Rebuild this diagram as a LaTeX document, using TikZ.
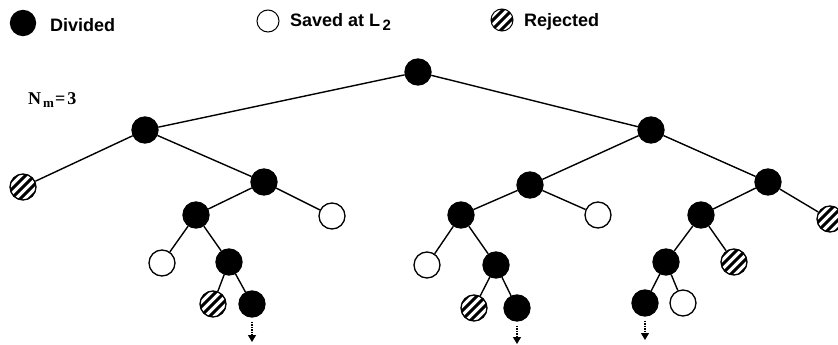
\documentclass[tikz,border=0pt]{standalone}
\usepackage{fontspec}
\setmainfont{Liberation Sans}
\newfontfamily\tserif{Liberation Serif}
\usetikzlibrary{arrows.meta}
\tikzset{
  nd/.style={circle, draw, line width=1.3pt, minimum size=26pt, inner sep=0pt},
  blk/.style={nd, fill=black},
  opn/.style={nd, fill=white},
  hatch/.style={path picture={
      \foreach \k in {-36,-27,...,36}
        \draw[line width=3pt] ([xshift=\k pt]path picture bounding box.center) ++(-20pt,-20pt) -- ++(40pt,40pt);
    }},
  rej/.style={nd, fill=white, hatch},
  edge/.style={line width=1.4pt},
  down/.style={line width=1.3pt, dash pattern=on 1.5pt off 1pt, -{Triangle[length=7pt,width=8pt,sep=0pt]}},
  legtext/.style={anchor=base west, font=\bfseries\fontsize{18}{20}\selectfont, inner sep=0pt}
}
\begin{document}
\begin{tikzpicture}[x=1pt,y=-1pt]
\useasboundingbox (0,0) rectangle (838,345);
% legend
\node[blk, minimum size=25pt] (lg1) at (23,23) {};
\node[legtext] (lt1) at (50,32) {Divided};
\node[opn, minimum size=22pt, line width=1pt] (lg2) at (268,21) {};
\node[legtext] (lt2) at (290,27) {Saved at L\raisebox{-0.35ex}{\fontsize{15}{16}\selectfont\,2}};
\node[rej, minimum size=22pt, line width=1pt] (lg3) at (502,20) {};
\node[legtext] (lt3) at (524,27) {Rejected};
\node[anchor=base west, inner sep=0pt, font=\tserif\bfseries\fontsize{18}{20}\selectfont] (nm) at (28,104) {N\hspace{2pt}\raisebox{-3pt}{\fontsize{13}{14}\selectfont m}\hspace{1pt}=\hspace{2pt}3};
% tree
\node[blk] (r) at (418,72) {};
\node[blk] (a) at (145,130) {};
\node[blk] (b) at (651,130) {};
\node[rej] (a1) at (23,187) {};
\node[blk] (a2) at (264,182) {};
\node[blk] (a21) at (196,215) {};
\node[opn] (a22) at (332,216) {};
\node[opn] (a211) at (162,263) {};
\node[blk] (a212) at (229,262) {};
\node[rej] (a2121) at (213,304) {};
\node[blk] (a2122) at (252,304) {};
\node[blk] (b1) at (530,185) {};
\node[blk] (b2) at (768,182) {};
\node[blk] (b11) at (461,215) {};
\node[opn] (b12) at (598,215) {};
\node[opn] (b111) at (427,265) {};
\node[blk] (b112) at (496,265) {};
\node[rej] (b1121) at (474,308) {};
\node[blk] (b1122) at (517,308) {};
\node[blk] (b21) at (701,215) {};
\node[rej] (b22) at (830,219) {};
\node[blk] (b211) at (666,262) {};
\node[rej] (b212) at (734,262) {};
\node[blk] (b2111) at (645,303) {};
\node[opn] (b2112) at (683,303) {};
\coordinate (e1) at (252,342);
\coordinate (e2) at (517,344);
\coordinate (e3) at (645,340);
\draw[edge] (r) -- (a);
\draw[edge] (r) -- (b);
\draw[edge] (a) -- (a1);
\draw[edge] (a) -- (a2);
\draw[edge] (a2) -- (a21);
\draw[edge] (a2) -- (a22);
\draw[edge] (a21) -- (a211);
\draw[edge] (a21) -- (a212);
\draw[edge] (a212) -- (a2121);
\draw[edge] (a212) -- (a2122);
\draw[edge] (b) -- (b1);
\draw[edge] (b) -- (b2);
\draw[edge] (b1) -- (b11);
\draw[edge] (b1) -- (b12);
\draw[edge] (b11) -- (b111);
\draw[edge] (b11) -- (b112);
\draw[edge] (b112) -- (b1121);
\draw[edge] (b112) -- (b1122);
\draw[edge] (b2) -- (b21);
\draw[edge] (b2) -- (b22);
\draw[edge] (b21) -- (b211);
\draw[edge] (b21) -- (b212);
\draw[edge] (b211) -- (b2111);
\draw[edge] (b211) -- (b2112);
\draw[down] ([yshift=-4pt]a2122.south) -- (e1);
\draw[down] ([yshift=-4pt]b1122.south) -- (e2);
\draw[down] ([yshift=-4pt]b2111.south) -- (e3);
\end{tikzpicture}
\end{document}
